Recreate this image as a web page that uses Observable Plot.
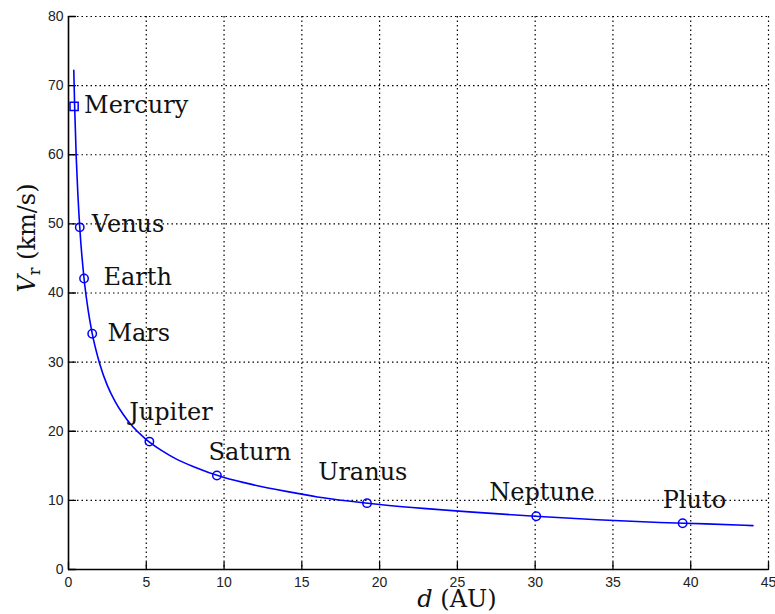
<!DOCTYPE html>
<html><head><meta charset="utf-8">
<script src="https://cdn.jsdelivr.net/npm/d3@7"></script>
<script src="https://cdn.jsdelivr.net/npm/@observablehq/plot@0.6"></script>
<style>
body{margin:0;background:#fff}
#chart{position:relative;width:775px;height:614px}
</style>
</head><body><div id="chart"></div>
<script>
// Planet data (distance in AU, velocity in km/s)
const planets = ["Mercury","Venus","Earth","Mars","Jupiter","Saturn","Uranus","Neptune","Pluto"];
const distanceAU = [0.36, 0.723, 1.0, 1.524, 5.20, 9.54, 19.19, 30.07, 39.48];
const velocity = [67.0, 49.5, 42.1, 34.1, 18.5, 13.6, 9.6, 7.7, 6.7];
const markerShape = ["square","circle","circle","circle","circle","circle","circle","circle","circle"];
// label anchor points (data units)
const labelD = [1.0, 1.5, 2.25, 2.5, 3.9, 9.0, 16.05, 27.05, 38.2];
const labelV = [67.1, 50.0, 42.3, 34.1, 22.7, 16.95, 14.05, 11.15, 10.0];
// curve
const curveD = [0.34, 0.4, 0.5, 0.6, 0.75, 1.0, 1.25, 1.5, 2.0, 2.5, 3.0, 3.5, 4.0, 5.0, 6.0, 7.0, 8.0, 10, 12, 14, 16, 18, 20, 23, 26, 30, 34, 38, 41, 44];
const curveV = [72.2, 66.6, 59.5, 54.4, 48.6, 42.1, 37.7, 34.4, 29.8, 26.6, 24.3, 22.5, 21.0, 18.8, 17.2, 15.9, 14.9, 13.3, 12.2, 11.3, 10.5, 9.9, 9.4, 8.8, 8.3, 7.7, 7.2, 6.8, 6.6, 6.35];
const xTicks = [0, 5, 10, 15, 20, 25, 30, 35, 40, 45];
const yTicks = [0, 10, 20, 30, 40, 50, 60, 70, 80];

const idx = planets.map((_, i) => i);
const curve = curveD.map((d, i) => ({d, v: curveV[i]}));
const blue = "#0000ff";
const serif = "DejaVu Serif";
const tickShape = {draw(context, l) { context.moveTo(0, 0); context.lineTo(0, -l); }};

const plot = Plot.plot({
  width: 775,
  height: 614,
  marginLeft: 68,
  marginRight: 7,
  marginTop: 16,
  marginBottom: 45,
  style: {fontFamily: "Liberation Sans", fontSize: "14px", background: "#fff", overflow: "visible"},
  x: {domain: [0, 45], label: null},
  y: {domain: [0, 80], label: null},
  marks: [
    Plot.ruleX(xTicks.filter(d => d > 0), {x: d => d, stroke: "#000", strokeWidth: 1.2, strokeDasharray: "1.5,3"}),
    Plot.ruleY(yTicks.filter(d => d > 0), {y: d => d, stroke: "#000", strokeWidth: 1.2, strokeDasharray: "1.5,3"}),
    Plot.axisX({ticks: xTicks, tickSize: 0, tickPadding: 8, tickFormat: d => String(d), fontSize: 14, fill: "#222", label: null}),
    Plot.axisY({ticks: yTicks, tickSize: 0, tickPadding: 5, tickFormat: d => String(d), fontSize: 14, fill: "#222", label: null}),
    Plot.vector(xTicks, {x: d => d, y: 0, length: 7, rotate: 0, anchor: "start", shape: tickShape, stroke: "#000", strokeWidth: 1.3}),
    Plot.vector(yTicks, {x: 0, y: d => d, length: 7, rotate: 90, anchor: "start", shape: tickShape, stroke: "#000", strokeWidth: 1.3}),
    Plot.ruleX([0], {stroke: "#000", strokeWidth: 1.6}),
    Plot.ruleY([0], {stroke: "#000", strokeWidth: 1.6}),
    Plot.line(curve, {x: "d", y: "v", stroke: blue, strokeWidth: 1.6, curve: "monotone-x"}),
    Plot.dot(idx.filter(i => markerShape[i] === "circle"), {x: i => distanceAU[i], y: i => velocity[i], symbol: "circle", r: 4.2, stroke: blue, strokeWidth: 1.5, fill: "none"}),
    Plot.dot(idx.filter(i => markerShape[i] === "square"), {x: i => distanceAU[i], y: i => velocity[i], symbol: "square", r: 4.6, stroke: blue, strokeWidth: 1.5, fill: "none"}),
    Plot.text(idx, {x: i => labelD[i], y: i => labelV[i], text: i => planets[i], textAnchor: "start", fontFamily: serif, fontSize: 24, fill: "#111"})
  ]
});
document.getElementById("chart").appendChild(plot);

// axis titles
const svg = d3.select(plot);
const yl = svg.append("text")
  .attr("transform", "translate(35,238) rotate(-90)")
  .attr("text-anchor", "middle")
  .attr("font-family", serif)
  .attr("font-size", 24)
  .attr("fill", "#111");
yl.append("tspan").attr("font-style", "italic").text("V");
yl.append("tspan").attr("font-size", 16).attr("dy", 5).text("r");
yl.append("tspan").attr("dy", -5).text(" (km/s)");

const xl = svg.append("text")
  .attr("x", 457).attr("y", 607)
  .attr("text-anchor", "middle")
  .attr("font-family", serif)
  .attr("font-size", 24)
  .attr("fill", "#111");
xl.append("tspan").attr("font-style", "italic").text("d");
xl.append("tspan").text(" (AU)");
</script>
</body></html>
